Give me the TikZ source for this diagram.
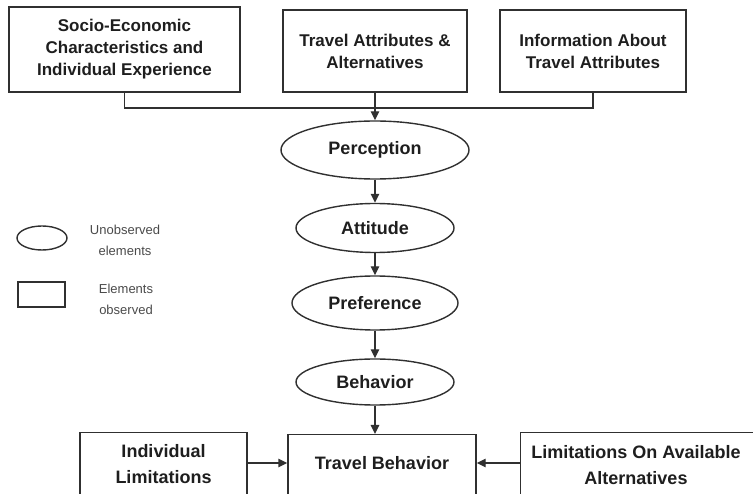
\documentclass[tikz,border=0pt]{standalone}
\usepackage{fontspec}
\setmainfont{Liberation Sans}
\usetikzlibrary{arrows.meta,shapes.geometric}
\definecolor{ln}{HTML}{303030}
\definecolor{tx}{HTML}{1E1E1E}
\definecolor{lg}{HTML}{4A4A4A}
\begin{document}
\begin{tikzpicture}[x=1pt,y=-1pt,
  lbl/.style={font=\bfseries\fontsize{17}{22}\selectfont,text=tx,align=center},
  big/.style={font=\bfseries\fontsize{18}{26}\selectfont,text=tx,align=center},
  obox/.style={draw=ln,line width=1.4pt,rectangle,inner sep=0pt,lbl},
  uell/.style={draw=ln,line width=1.4pt,ellipse,inner sep=0pt,big},
  arr/.style={draw=ln,line width=1.4pt,-{Triangle[length=9pt,width=8.5pt]}},
  con/.style={draw=ln,line width=1.4pt},
  legtxt/.style={font=\fontsize{13}{21}\selectfont,text=lg,align=center}]
\useasboundingbox (0,0) rectangle (753,494);
\clip (0,0) rectangle (753,494);
% top boxes
\node[obox,minimum width=231pt,minimum height=85pt] (soc) at (124.5,49.5) {Socio-Economic\\Characteristics and\\Individual Experience};
\node[obox,minimum width=184pt,minimum height=82pt] (tra) at (375,51) {Travel Attributes \&\\Alternatives};
\node[obox,minimum width=186pt,minimum height=82pt] (inf) at (593,51) {Information About\\Travel Attributes};
% ellipses
\node[uell,minimum width=188pt,minimum height=58pt] (per) at (375,150) {Perception};
\node[uell,minimum width=158pt,minimum height=49pt] (att) at (375,228) {Attitude};
\node[uell,minimum width=166pt,minimum height=54pt] (pre) at (375,303) {Preference};
\node[uell,minimum width=158pt,minimum height=46pt] (beh) at (375,382) {Behavior};
% bottom boxes (cut off by the frame)
\node[obox,minimum width=188pt,minimum height=66pt,anchor=north] (tb) at (382,434) {};
\node[big] (tbt) at (382,463) {Travel Behavior};
\node[obox,minimum width=167pt,minimum height=68pt,anchor=north] (il) at (163.5,432) {};
\node[big] (ilt) at (163.5,464) {Individual\\Limitations};
\node[obox,minimum width=240pt,minimum height=68pt,anchor=north west] (la) at (520,432) {};
\node[big] (lat) at (636,465) {Limitations On Available\\Alternatives};
% connectors
\coordinate (bus) at (375,108);
\draw[con] (soc.south) |- (bus) -| (inf.south);
\draw[arr] (tra.south) -- (per.north);
\draw[arr] (per.south) -- (att.north);
\draw[arr] (att.south) -- (pre.north);
\draw[arr] (pre.south) -- (beh.north);
\draw[arr] (beh.south) -- (beh.south |- tb.north);
\draw[arr] (il.east |- tbt) -- (tb.west |- tbt);
\draw[arr] (la.west |- tbt) -- (tb.east |- tbt);
% legend
\node[draw=ln,line width=1.4pt,ellipse,minimum width=50pt,minimum height=24pt,inner sep=0pt] (le) at (42,238) {};
\node[draw=ln,line width=1.4pt,rectangle,minimum width=47pt,minimum height=25pt,inner sep=0pt] (lr) at (41.5,294.5) {};
\node[legtxt] (let) at (125,240) {Unobserved\\elements};
\node[legtxt] (lrt) at (126,299) {Elements\\observed};
\end{tikzpicture}
\end{document}
